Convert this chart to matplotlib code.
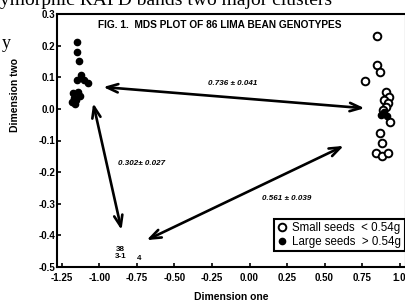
import matplotlib.pyplot as plt
from matplotlib.ticker import FixedLocator

# large seeds (filled), left cluster plus a few in the right cluster
large_x = [-1.150, -1.150, -1.137, -1.124, -1.104, -1.077, -1.150, -1.177, -1.143,
           -1.170, -1.183, -1.157, -1.130, -1.163, 0.874, 0.914, 0.894]
large_y = [0.212, 0.180, 0.152, 0.108, 0.092, 0.082, 0.092, 0.051, 0.054,
           0.035, 0.022, 0.028, 0.041, 0.016, -0.019, -0.024, -0.010]

# small seeds (open), right cluster
small_x = [0.847, 0.847, 0.867, 0.767, 0.907, 0.927, 0.894, 0.920, 0.907, 0.887,
           0.934, 0.867, 0.880, 0.840, 0.880, 0.920]
small_y = [0.231, 0.139, 0.118, 0.089, 0.052, 0.038, 0.028, 0.019, 0.007, -0.003,
           -0.040, -0.077, -0.109, -0.140, -0.149, -0.138]

# genotype numbers written in place of markers
num_labels = ["38", "3-1", "4"]
num_x = [-0.86, -0.857, -0.737]
num_y = [-0.446, -0.468, -0.472]

# distances between clusters (double arrows)
arrows = [((-0.975, 0.069), (0.767, 0.002)),
          ((-1.042, 0.018), (-0.853, -0.383)),
          ((-0.686, -0.415), (0.628, -0.117))]
dist_labels = ["0.736 ± 0.041", "0.302± 0.027", "0.561 ± 0.039"]
dist_pos = [(-0.11, 0.079), (-0.72, -0.172), (0.25, -0.283)]

xticks = [-1.25, -1.0, -0.75, -0.5, -0.25, 0.0, 0.25, 0.5, 0.75, 1.0]
xticklabels = ["-1.25", "-1.00", "-0.75", "-0.50", "-0.25", "0.00", "0.25", "0.50", "0.75", "1.0"]
yticks = [-0.5, -0.4, -0.3, -0.2, -0.1, 0.0, 0.1, 0.2, 0.3]
yticklabels = ["-0.5", "-0.4", "-0.3", "-0.2", "-0.1", "0.0", "0.1", "0.2", "0.3"]

plt.rcParams['font.family'] = ['Liberation Sans', 'DejaVu Sans']

fig = plt.figure(figsize=(4.06, 3.01), dpi=100)
ax = fig.add_axes([57/406, 1 - 267/301, 349/406, 253/301])

ax.plot(small_x, small_y, 'o', ms=5.5, mfc='white', mec='black', mew=1.4, label='Small seeds  < 0.54g')
ax.plot(large_x, large_y, 'o', ms=4.5, color='black', label='Large seeds  > 0.54g')

for s, x, y in zip(num_labels, num_x, num_y):
    ax.text(x, y, s, fontsize=5.8, fontweight='bold', ha='center', va='center')

for (p0, p1) in arrows:
    ax.annotate('', xy=p1, xytext=p0,
                arrowprops=dict(arrowstyle='<->,head_length=0.8,head_width=0.3',
                                lw=1.9, color='black', shrinkA=0, shrinkB=0))
for s, (x, y) in zip(dist_labels, dist_pos):
    ax.text(x, y, s, fontsize=5.8, fontweight='bold', style='italic', ha='center', va='center')

ax.set_xlim(-1.283, 1.043)
ax.set_ylim(-0.5, 0.3)
ax.xaxis.set_major_locator(FixedLocator(xticks))
ax.set_xticklabels(xticklabels)
ax.yaxis.set_major_locator(FixedLocator(yticks))
ax.set_yticklabels(yticklabels)
ax.tick_params(direction='in', length=3, width=1.2, labelsize=7, pad=1)
ax.tick_params(axis='x', pad=4)
for lab in ax.get_xticklabels() + ax.get_yticklabels():
    lab.set_fontweight('bold')
for sp in ax.spines.values():
    sp.set_linewidth(1.5)

ax.set_xlabel("Dimension one", fontsize=7.5, fontweight='bold', labelpad=7)
ax.set_ylabel("Dimension two", fontsize=7.5, fontweight='bold', labelpad=12)
ax.yaxis.set_label_coords(-0.105, 0.68)

ax.text(0.467, 0.957, "FIG. 1.  MDS PLOT OF 86 LIMA BEAN GENOTYPES", transform=ax.transAxes,
        fontsize=7.3, fontweight='bold', ha='center', va='center')

leg = ax.legend(loc='lower right', bbox_to_anchor=(0.997, 0.063), borderaxespad=0,
                fontsize=8.3, fancybox=False, edgecolor='black', framealpha=1,
                handlelength=0.8, handletextpad=0.5, borderpad=0.3, labelspacing=0.1)
leg.get_frame().set_linewidth(1.5)

# fragments of the scanned page around the figure
fig.text(0.0, 1 - 5/301, "ymorphic RAPD bands two major clusters", family='Liberation Serif',
         fontsize=14, va='baseline', ha='left')
fig.text(0.005, 1 - 43/301, "y", family='Liberation Serif', fontsize=13, va='center', ha='left')

fig.savefig("out.png", dpi=100)
